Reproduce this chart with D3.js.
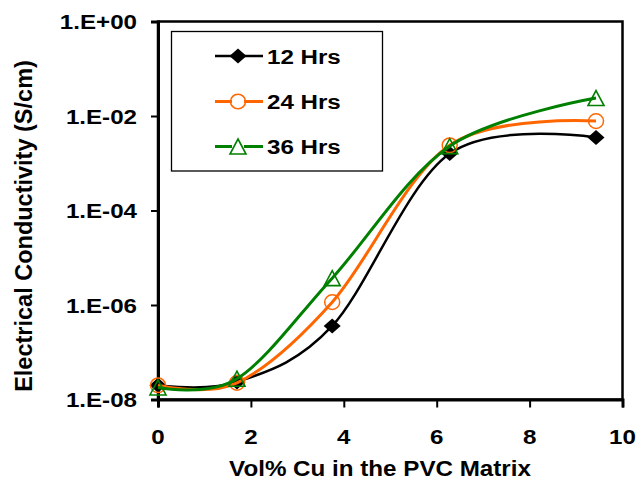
<!DOCTYPE html>
<html>
<head>
<meta charset="utf-8">
<script src="https://cdn.jsdelivr.net/npm/d3@7"></script>
<style>
  body { margin: 0; background: #fff; }
  text { font-family: "Liberation Sans", Arial, sans-serif; font-weight: bold; fill: #000; }
</style>
</head>
<body>
<div id="chart"></div>
<script>
// Vol% Cu values (x) and conductivity for each curing time
var volCu = [0, 1.7, 3.75, 6.28, 9.43];
var hrs12 = [2.0e-8, 2.35e-8, 3.6e-7, 1.6e-3, 3.5e-3];
var hrs24 = [2.0e-8, 2.25e-8, 1.15e-6, 2.4e-3, 7.8e-3];
var hrs36 = [1.8e-8, 2.75e-8, 3.7e-6, 2.3e-3, 2.4e-2];

var seriesNames = ["12 Hrs", "24 Hrs", "36 Hrs"];
var xTicks = [0, 2, 4, 6, 8, 10];
var yTicks = [1, 1e-2, 1e-4, 1e-6, 1e-8];
var yTickLabels = ["1.E+00", "1.E-02", "1.E-04", "1.E-06", "1.E-08"];

var width = 639, height = 480;

var svg = d3.select("#chart").append("svg")
    .attr("width", width)
    .attr("height", height);

var x = d3.scaleLinear().domain([0, 10]).range([158, 622.5]);
var y = d3.scaleLog().domain([1e-8, 1]).range([399.5, 21.5]);

// text helper, sx stretches the glyphs sideways like the picture
function label(g, tx, ty, str, anchor, size, sx) {
    return g.append("text")
        .attr("transform", "translate(" + tx + "," + ty + ") scale(" + sx + ",1)")
        .attr("text-anchor", anchor)
        .style("font-size", size + "px")
        .text(str);
}

// plot frame (top and right)
svg.append("rect")
    .attr("x", x(0)).attr("y", y(1))
    .attr("width", x(10) - x(0)).attr("height", y(1e-8) - y(1))
    .attr("fill", "none").attr("stroke", "#000").attr("stroke-width", 2.5);

// axes
var xAxis = svg.append("g")
    .attr("transform", "translate(0," + y(1e-8) + ")")
    .call(d3.axisBottom(x).tickValues(xTicks).tickSize(8).tickFormat(""));
var yAxis = svg.append("g")
    .attr("transform", "translate(" + x(0) + ",0)")
    .call(d3.axisLeft(y).tickValues(yTicks).tickSize(7).tickFormat(""));

[xAxis, yAxis].forEach(function (a) {
    a.select(".domain").attr("stroke", "#000").attr("stroke-width", 3);
    a.selectAll(".tick line").attr("stroke", "#000").attr("stroke-width", 2);
});

// tick labels
xTicks.forEach(function (t) {
    label(svg, x(t), 444, String(t), "middle", 21, 1.15);
});
yTicks.forEach(function (t, i) {
    label(svg, 137, y(t) + 7.5, yTickLabels[i], "end", 21, 1.15);
});

// axis titles
label(svg, 380, 476, "Vol% Cu in the PVC Matrix", "middle", 22, 1.1);
svg.append("text")
    .attr("transform", "translate(32,226) rotate(-90)")
    .attr("text-anchor", "middle")
    .style("font-size", "23.5px")
    .text("Electrical Conductivity (S/cm)");

// marker shapes, drawn around (0,0)
function marker(g, kind, color) {
    if (kind === 0) {
        g.append("path").attr("d", "M0,-7.5L8.5,0L0,7.5L-8.5,0Z").attr("fill", color);
    } else if (kind === 1) {
        g.append("ellipse").attr("rx", 7.5).attr("ry", 7.3)
            .attr("fill", "none").attr("stroke", color).attr("stroke-width", 1.5);
    } else {
        g.append("path").attr("d", "M0,-7.5L8,7.5L-8,7.5Z")
            .attr("fill", "none").attr("stroke", color).attr("stroke-width", 1.6);
    }
}

var colors = ["#000000", "#FF6600", "#008000"];
var lineWidths = [2.5, 3, 3];
var allSeries = [hrs12, hrs24, hrs36];

var line = d3.line()
    .x(function (d, i) { return x(volCu[i]); })
    .y(function (d) { return y(d); })
    .curve(d3.curveCardinal.tension(0));

allSeries.forEach(function (vals, s) {
    svg.append("path")
        .attr("d", line(vals))
        .attr("fill", "none")
        .attr("stroke", colors[s])
        .attr("stroke-width", lineWidths[s]);
    vals.forEach(function (v, i) {
        var g = svg.append("g").attr("transform", "translate(" + x(volCu[i]) + "," + y(v) + ")");
        marker(g, s, colors[s]);
    });
});

// legend
svg.append("rect")
    .attr("x", 171.5).attr("y", 31.5).attr("width", 211).attr("height", 139.5)
    .attr("fill", "#fff").attr("stroke", "#000").attr("stroke-width", 1.3);

var legendY = [56, 101.5, 146.5];
seriesNames.forEach(function (name, s) {
    svg.append("line")
        .attr("x1", 215).attr("x2", 263)
        .attr("y1", legendY[s]).attr("y2", legendY[s])
        .attr("stroke", colors[s]).attr("stroke-width", lineWidths[s]);
    var g = svg.append("g").attr("transform", "translate(238," + legendY[s] + ")");
    g.append("rect").attr("x", -6).attr("y", -6).attr("width", 12).attr("height", 12)
        .attr("fill", s === 0 ? "none" : "#fff");
    marker(g, s, colors[s]);
    label(svg, 267, legendY[s] + 7.5, name, "start", 21, 1.15);
});
</script>
</body>
</html>
